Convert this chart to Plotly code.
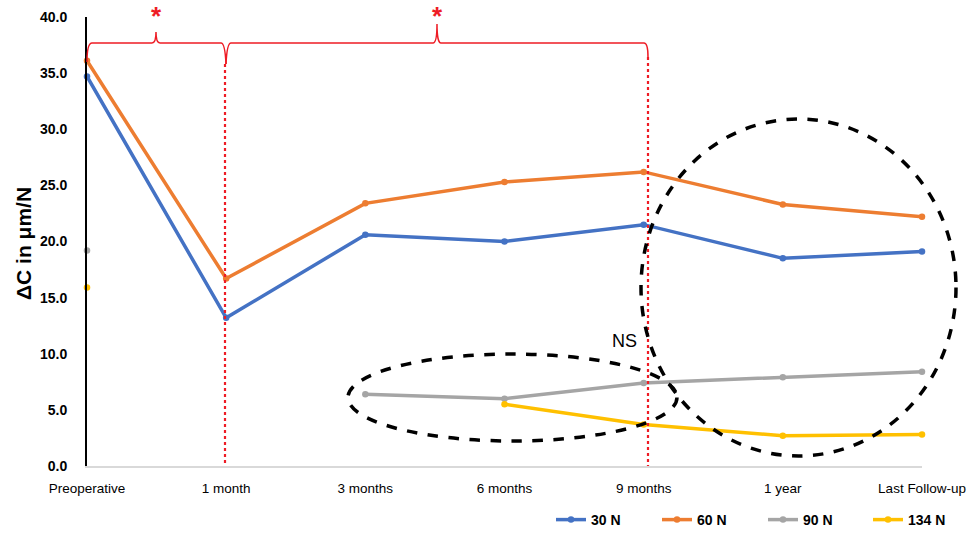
import plotly.graph_objects as go

categories = ["Preoperative", "1 month", "3 months", "6 months", "9 months", "1 year", "Last Follow-up"]
s30 = [34.7, 13.2, 20.6, 20.0, 21.5, 18.5, 19.1]
s60 = [36.1, 16.7, 23.4, 25.3, 26.2, 23.3, 22.2]
s90 = [19.2, None, 6.4, 6.0, 7.4, 7.9, 8.4]
s134 = [15.9, None, None, 5.5, 3.7, 2.7, 2.8]
series = [("30 N", s30, "#4472C4"), ("60 N", s60, "#ED7D31"),
          ("90 N", s90, "#A5A5A5"), ("134 N", s134, "#FFC000")]

W, H = 975, 536
L, R, T, B = 87, 53, 17, 70
PW, PH = W - L - R, H - T - B

def px(x):
    return (x - L) / PW

def py(y):
    return (H - B - y) / PH

FONT = "Liberation Sans, Arial, sans-serif"

legend_ids = ["legend", "legend2", "legend3", "legend4"]
legend_x = [551, 657, 763, 868]

fig = go.Figure()
for (name, vals, col), lid in zip(series, legend_ids):
    fig.add_trace(go.Scatter(
        x=categories, y=vals, name=name, mode="lines+markers",
        line=dict(color=col, width=3.5), marker=dict(size=6.5, color=col),
        connectgaps=False, cliponaxis=False, legend=lid))

red = "#EE1C25"
def path(points):
    out = []
    for cmd, *coords in points:
        conv = []
        for i in range(0, len(coords), 2):
            conv.append(f"{px(coords[i]):.5f},{py(coords[i+1]):.5f}")
        out.append(cmd + " " + " ".join(conv))
    return " ".join(out)

brace1 = path([("M", 87, 62), ("Q", 87, 43, 92, 43), ("L", 152, 43),
               ("Q", 156, 43, 156, 32), ("Q", 156, 43, 160, 43), ("L", 221, 43),
               ("Q", 225, 43, 226, 64)])
brace2 = path([("M", 226, 64), ("Q", 227, 43, 231, 43), ("L", 433, 43),
               ("Q", 437, 43, 437, 24), ("Q", 437, 43, 441, 43), ("L", 644, 43),
               ("Q", 648, 43, 648, 57)])
shapes = [
    dict(type="path", path=brace1, xref="paper", yref="paper", line=dict(color=red, width=1.5)),
    dict(type="path", path=brace2, xref="paper", yref="paper", line=dict(color=red, width=1.5)),
    dict(type="line", xref="paper", yref="paper", x0=px(225), x1=px(225), y0=py(64), y1=py(466),
         line=dict(color=red, width=2.2, dash="dot")),
    dict(type="line", xref="paper", yref="paper", x0=px(648), x1=px(648), y0=py(57), y1=py(466),
         line=dict(color=red, width=2.2, dash="dot")),
    dict(type="circle", xref="paper", yref="paper", x0=px(348), x1=px(677), y0=py(441), y1=py(354),
         line=dict(color="black", width=3.5, dash="dash")),
    dict(type="circle", xref="paper", yref="paper", x0=px(641), x1=px(956), y0=py(456), y1=py(119),
         line=dict(color="black", width=3.5, dash="dash")),
]

annotations = [
    dict(text="*", x=px(156), y=py(16), xref="paper", yref="paper", showarrow=False,
         xanchor="center", yanchor="middle",
         font=dict(color=red, size=26, family=FONT, weight="bold")),
    dict(text="*", x=px(437), y=py(16), xref="paper", yref="paper", showarrow=False,
         xanchor="center", yanchor="middle",
         font=dict(color=red, size=26, family=FONT, weight="bold")),
    dict(text="NS", x=px(624), y=py(341), xref="paper", yref="paper", showarrow=False,
         xanchor="center", yanchor="middle",
         font=dict(color="black", size=18, family=FONT)),
    dict(text="ΔC in μm/N", x=px(23), y=py(244), xref="paper", yref="paper", showarrow=False,
         xanchor="center", yanchor="middle",
         textangle=-90, font=dict(color="black", size=21, family=FONT, weight="bold")),
]

layout_legends = {}
for lid, lx in zip(legend_ids, legend_x):
    layout_legends[lid] = dict(orientation="h", xref="container", yref="container",
                               x=lx / W, xanchor="left", y=1 - 520 / H, yanchor="middle",
                               font=dict(family=FONT, size=14, color="black", weight="bold"),
                               itemwidth=30, bgcolor="rgba(0,0,0,0)", borderwidth=0)

fig.update_layout(
    width=W, height=H, margin=dict(l=L, r=R, t=T, b=B),
    paper_bgcolor="white", plot_bgcolor="white",
    shapes=shapes, annotations=annotations,
    xaxis=dict(type="category", range=[0, 6], showgrid=False, showline=True, automargin=False,
               linecolor="#D9D9D9", linewidth=2, ticks="", ticklabelstandoff=9,
               tickfont=dict(family=FONT, size=13.5, color="black")),
    yaxis=dict(range=[0, 40], dtick=5, tickformat=".1f", showgrid=False, zeroline=False,
               showline=True, linecolor="black", linewidth=2, ticks="", ticklabelstandoff=15,
               automargin=False,
               tickfont=dict(family=FONT, size=14, color="black", weight="bold")),
    showlegend=True,
    **layout_legends,
)

fig.write_html("out.html", config={"displayModeBar": False})
with open("out.html", encoding="utf-8") as f:
    html = f.read()
html = html.replace("<head>", "<head><style>html,body{margin:0;padding:0;overflow:hidden;}</style>", 1)
with open("out.html", "w", encoding="utf-8") as f:
    f.write(html)
